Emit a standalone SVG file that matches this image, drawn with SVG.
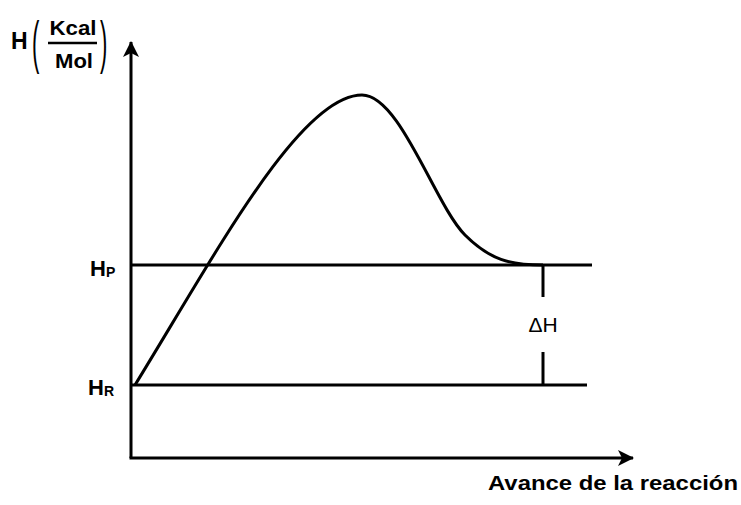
<svg xmlns="http://www.w3.org/2000/svg" width="741" height="505" viewBox="0 0 741 505">
<style>
.ln{stroke:#000;stroke-width:3;fill:none}
.t{font-family:"Liberation Sans",Arial,sans-serif;font-weight:bold;fill:#000}
.p{font-family:"Liberation Sans",Arial,sans-serif;font-weight:normal;fill:#000}
</style>
<defs>
<marker id="ah" viewBox="0 0 16 16" refX="15" refY="8" markerWidth="16" markerHeight="16" markerUnits="userSpaceOnUse" orient="auto">
<path d="M0,0 L16,8 L0,16 L4,8 Z" fill="#000"/>
</marker>
</defs>
<g id="axes">
<line class="ln" x1="131" y1="458" x2="131" y2="42" marker-end="url(#ah)"/>
<line class="ln" x1="129.5" y1="458" x2="633" y2="458" marker-end="url(#ah)"/>
</g>
<g id="ylabel">
<text class="t" x="11" y="49" font-size="23">H</text>
<text class="p" transform="translate(32,62) scale(1,2.6)" font-size="22">(</text>
<text class="t" x="73" y="35" font-size="20" text-anchor="middle" textLength="47" lengthAdjust="spacingAndGlyphs">Kcal</text>
<line x1="48" y1="43" x2="97" y2="43" stroke="#000" stroke-width="2.5"/>
<text class="t" x="74" y="68" font-size="20" text-anchor="middle" textLength="38" lengthAdjust="spacingAndGlyphs">Mol</text>
<text class="p" transform="translate(100,62) scale(1,2.6)" font-size="22">)</text>
</g>
<g id="levels">
<line class="ln" x1="131" y1="265" x2="592" y2="265"/>
<line class="ln" x1="131" y1="385" x2="587" y2="385"/>
</g>
<g id="HP"><text class="t" x="90" y="276" font-size="22">H<tspan font-size="14" dy="1">P</tspan></text></g>
<g id="HR"><text class="t" x="88" y="395" font-size="22">H<tspan font-size="14" dy="1">R</tspan></text></g>
<g id="connectors">
<path class="ln" d="M135,385 C215,255 300,95 362,95 C400,95 435,205 465,235 C490,260 510,265 543,265"/>
<line class="ln" x1="543" y1="265" x2="543" y2="297"/>
<line class="ln" x1="543" y1="352" x2="543" y2="385"/>
</g>
<g id="dH"><text class="p" x="543" y="332" font-size="21" text-anchor="middle">ΔH</text></g>
<g id="xlabel"><text class="t" x="488" y="490" font-size="21" textLength="250" lengthAdjust="spacingAndGlyphs">Avance de la reacción</text></g>
</svg>
